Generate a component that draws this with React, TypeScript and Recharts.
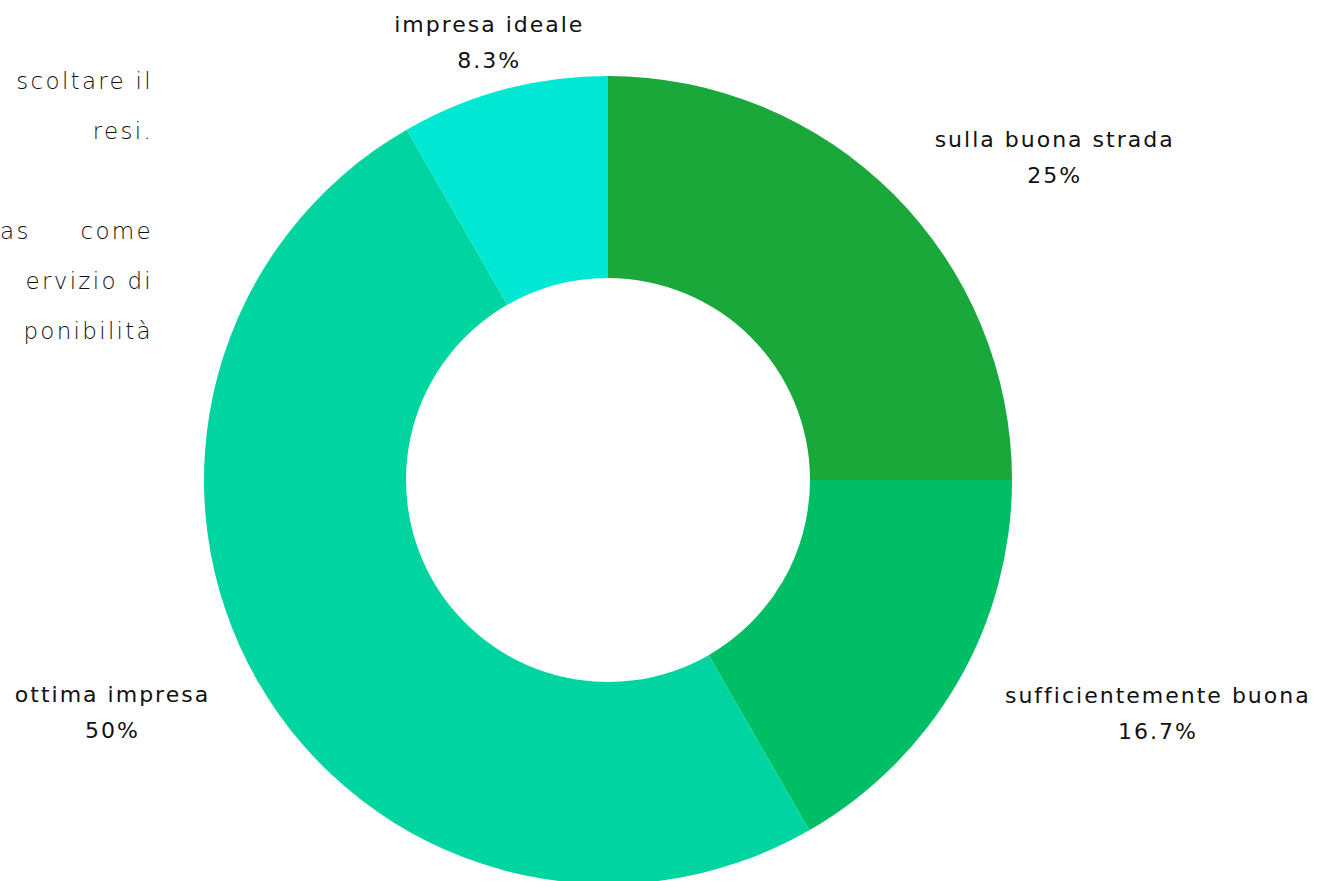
import { PieChart, Pie, Cell } from "recharts";

const categories = ["sulla buona strada", "sufficientemente buona", "ottima impresa", "impresa ideale"];
const shares = [25, 16.7, 50, 8.3];
const shareLabels = ["25%", "16.7%", "50%", "8.3%"];
const colors = ["#1AA83A", "#00BE66", "#00D5A1", "#00E8D3"];

const sideText = ["scoltare il", "resi.", "", "as come", "ervizio di", "ponibilità"];

const data = categories.map((name, i) => ({ name, value: shares[i], label: shareLabels[i] }));

const RAD = Math.PI / 180;
const LABEL_SIZE = 22;
const LABEL_SPACING = 2;

function textWidth(s: string) {
  const ctx = document.createElement("canvas").getContext("2d");
  if (!ctx) return s.length * 14;
  ctx.font = `${LABEL_SIZE}px 'DejaVu Sans'`;
  return ctx.measureText(s).width + s.length * LABEL_SPACING;
}

function SliceLabel(props: any) {
  const { cx, cy, midAngle, index } = props;
  const r = 445;
  const cos = Math.cos(-midAngle * RAD);
  const sin = Math.sin(-midAngle * RAD);
  const px = cx + r * cos;
  const py = cy + r * sin;
  const w = Math.max(textWidth(categories[index]), textWidth(shareLabels[index]));
  let x = px - 4;
  if (cos > 0.3) x = px + 12 + w / 2;
  else if (cos < -0.3) x = px - 12 - w / 2;
  const mid = py + (sin < 0 ? -10 : 8);
  return (
    <text
      textAnchor="middle"
      fill="#111"
      fontSize={LABEL_SIZE}
      letterSpacing={LABEL_SPACING}
      fontFamily="'DejaVu Sans', sans-serif"
    >
      <tspan x={x} y={mid - 8}>{categories[index]}</tspan>
      <tspan x={x} y={mid + 28}>{shareLabels[index]}</tspan>
    </text>
  );
}

export default function App() {
  return (
    <div style={{ position: "absolute", left: 0, top: 0, width: 1334, height: 881, background: "#fff", overflow: "hidden" }}>
      <div
        style={{
          position: "absolute",
          left: 0,
          top: 56,
          width: 153,
          overflow: "hidden",
          fontFamily: "'DejaVu Sans', sans-serif",
          fontWeight: 300,
          fontSize: 23,
          letterSpacing: 2.3,
          lineHeight: "50px",
          color: "#111",
          whiteSpace: "nowrap",
        }}
      >
        {sideText.map((line, i) =>
          line === "as come" ? (
            <div key={i} style={{ display: "flex", justifyContent: "space-between", width: 153 }}>
              <span>as</span>
              <span>come</span>
            </div>
          ) : (
            <div key={i} style={{ textAlign: "right", height: 50 }}>{line}</div>
          )
        )}
      </div>
      <PieChart
        width={1334}
        height={881}
        margin={{ top: 0, right: 0, bottom: 0, left: 0 }}
        style={{ position: "absolute", left: 0, top: 0 }}
      >
        <Pie
          data={data}
          dataKey="value"
          nameKey="name"
          cx={608}
          cy={480}
          innerRadius={202}
          outerRadius={404}
          startAngle={90}
          endAngle={-270}
          stroke="none"
          labelLine={false}
          label={SliceLabel}
          isAnimationActive={false}
        >
          {data.map((d, i) => (
            <Cell key={d.name} fill={colors[i]} />
          ))}
        </Pie>
      </PieChart>
    </div>
  );
}
